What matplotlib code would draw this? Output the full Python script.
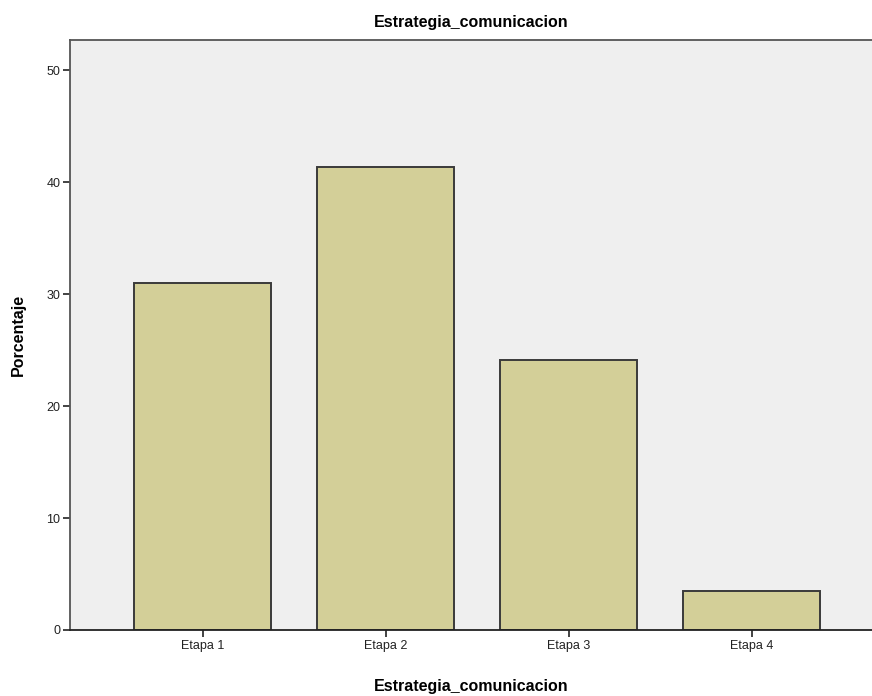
import matplotlib
matplotlib.use("Agg")
import matplotlib.pyplot as plt

plt.rcParams['font.family'] = ['Liberation Sans', 'DejaVu Sans']

# data (percent of cases per stage)
categories = ['Etapa 1', 'Etapa 2', 'Etapa 3', 'Etapa 4']
percentages = [31.03, 41.38, 24.14, 3.45]
y_ticks = [0, 10, 20, 30, 40, 50]

BAR_COLOR = '#d3cf98'
BG_COLOR = '#efefef'

fig = plt.figure(figsize=(8.72, 6.96), dpi=100)
ax = fig.add_axes([70 / 872, 66 / 696, 802 / 872, 590 / 696])
ax.set_facecolor(BG_COLOR)

x = range(len(categories))
ax.bar(x, percentages, width=0.75, color=BAR_COLOR,
       edgecolor='#3a3a3a', linewidth=1.4, zorder=2)

ax.set_xlim(-0.724, 3.658)
ax.set_ylim(0, 52.7)
ax.set_yticks(y_ticks)
ax.set_xticks(list(x))
ax.set_xticklabels(categories)
ax.tick_params(axis='both', labelsize=9, colors='#222222',
               length=5, width=1.2, direction='out', pad=2)

for side in ['left', 'bottom', 'top']:
    ax.spines[side].set_color('#555555')
    ax.spines[side].set_linewidth(1.3)
ax.spines['right'].set_visible(False)
ax.spines['bottom'].set_color('#222222')

ax.set_title('Estrategia_comunicacion', fontsize=11.5, fontweight='bold', pad=9)
ax.set_xlabel('Estrategia_comunicacion', fontsize=11.5, fontweight='bold', labelpad=20)
ax.set_ylabel('Porcentaje', fontsize=11.5, fontweight='bold', labelpad=15)

fig.savefig('out.png', dpi=100, facecolor='white')
